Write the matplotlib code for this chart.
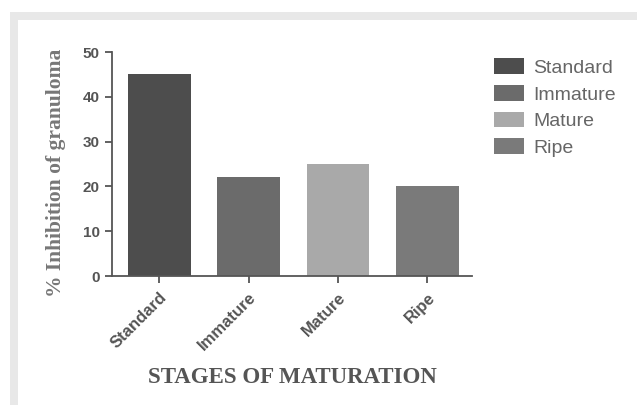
import matplotlib
matplotlib.use("Agg")
import matplotlib.pyplot as plt
from matplotlib.patches import Rectangle

categories = ["Standard", "Immature", "Mature", "Ripe"]
values = [45, 22, 25, 20]
colors = ["#4d4d4d", "#6b6b6b", "#a9a9a9", "#7a7a7a"]
yticks = [0, 10, 20, 30, 40, 50]

fig = plt.figure(figsize=(6.37, 4.05), dpi=100)
fig.patch.set_facecolor("white")
# light gray frame (top and left bands)
fig.patches.append(Rectangle((10/637, 0), 8/637, 1 - 12/405, transform=fig.transFigure,
                             facecolor="#e8e8e8", edgecolor="none", zorder=0))
fig.patches.append(Rectangle((10/637, 1 - 20/405), 1 - 10/637, 8/405, transform=fig.transFigure,
                             facecolor="#e8e8e8", edgecolor="none", zorder=0))

ax = fig.add_axes([112/637, 1 - 276/405, (472 - 112)/637, (276 - 52)/405])
x = list(range(len(categories)))
bars = ax.bar(x, values, width=0.7, color=colors, edgecolor="none", label=categories)

ax.set_xlim(-0.53, 3.5)
ax.set_ylim(0, 50)
ax.set_yticks(yticks)
ax.set_xticks(x)
ax.set_xticklabels(categories, rotation=45, ha="right", va="top",
                   rotation_mode="anchor", fontsize=12, fontweight="bold",
                   color="#555555", family="Liberation Sans")
for lab in ax.get_yticklabels():
    lab.set_fontsize(11)
    lab.set_fontweight("bold")
    lab.set_color("#555555")
    lab.set_family("Liberation Sans")

for s in ["top", "right"]:
    ax.spines[s].set_visible(False)
for s in ["left", "bottom"]:
    ax.spines[s].set_color("#555555")
    ax.spines[s].set_linewidth(1.3)
ax.tick_params(axis="both", length=5, width=1.3, color="#555555")
ax.tick_params(axis="x", pad=5)
ax.tick_params(axis="y", pad=4)

ax.set_ylabel("% Inhibition of granuloma", family="Liberation Serif",
              fontweight="bold", fontsize=15.5, color="#777777")
ax.yaxis.set_label_coords(-0.128, 0.46)
ax.set_xlabel("STAGES OF MATURATION", family="Liberation Serif",
              fontweight="bold", fontsize=16.5, color="#555555")
ax.xaxis.set_label_coords(0.5, -0.405)

leg = ax.legend(handles=bars, labels=categories, loc="upper left",
                bbox_to_anchor=(476/637, 1 - 41/405), bbox_transform=fig.transFigure,
                frameon=False, handlelength=1.55, handleheight=0.85,
                labelspacing=0.42, handletextpad=0.5,
                prop={"family": "Liberation Sans", "size": 14})
for t in leg.get_texts():
    t.set_color("#666666")

fig.savefig("out.png", dpi=100)
